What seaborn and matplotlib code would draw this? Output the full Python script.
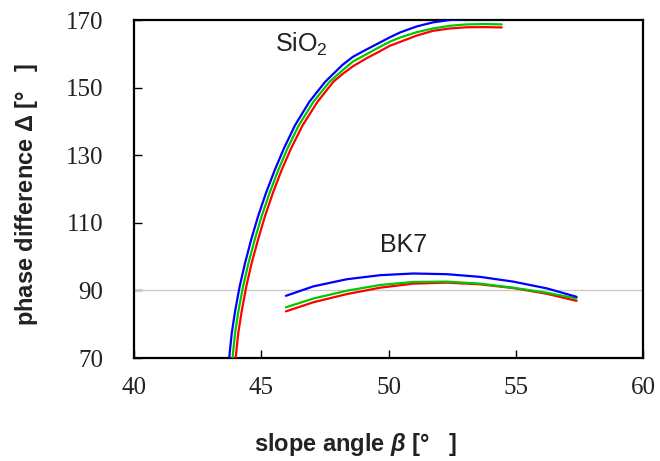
import matplotlib
matplotlib.use("Agg")
import matplotlib.pyplot as plt
import seaborn as sns
import pandas as pd

# SiO2 curves (slope angle beta [deg], phase difference delta [deg])
sio2_blue_x = [43.74, 43.84, 43.98, 44.15, 44.36, 44.60, 44.87, 45.18, 45.53, 45.89, 46.33, 46.89, 47.51,
               48.19, 48.60, 49.14, 49.60, 50.06, 50.45, 51.11, 51.75, 52.42, 53.07, 53.80, 54.45]
sio2_blue_y = [70.0, 77.3, 84.2, 91.1, 98.0, 104.9, 111.8, 118.7, 125.6, 132.0, 138.9, 145.8, 151.7,
               156.7, 159.1, 161.3, 163.1, 164.9, 166.3, 168.1, 169.3, 170.0, 170.25, 170.3, 170.3]
sio2_green_x = [43.87, 43.97, 44.11, 44.285, 44.495, 44.74, 45.01, 45.32, 45.67, 46.03, 46.48, 47.05, 47.68,
                48.19, 48.60, 49.14, 49.60, 50.06, 50.45, 51.11, 51.75, 52.42, 53.07, 53.80, 54.45]
sio2_green_y = [70.0, 77.3, 84.2, 91.1, 98.0, 104.9, 111.8, 118.7, 125.6, 132.0, 138.9, 145.8, 151.7,
                155.1, 157.7, 159.9, 161.8, 163.6, 164.8, 166.4, 167.5, 168.3, 168.7, 168.8, 168.7]
sio2_red_x = [43.995, 44.095, 44.24, 44.41, 44.62, 44.87, 45.14, 45.45, 45.80, 46.17, 46.63, 47.21, 47.83,
              48.19, 48.60, 49.14, 49.60, 50.06, 50.45, 51.11, 51.75, 52.42, 53.07, 53.80, 54.45]
sio2_red_y = [70.0, 77.3, 84.2, 91.1, 98.0, 104.9, 111.8, 118.7, 125.6, 132.0, 138.9, 145.8, 151.7,
              154.0, 156.3, 158.7, 160.5, 162.4, 163.5, 165.4, 166.8, 167.5, 167.85, 167.9, 167.8]

# BK7 curves
bk7_x = [45.97, 47.05, 48.36, 49.67, 50.97, 52.29, 53.60, 54.90, 56.22, 57.39]
bk7_blue_y = [88.4, 91.2, 93.3, 94.5, 95.0, 94.8, 94.0, 92.6, 90.6, 88.1]
bk7_green_y = [85.0, 87.6, 89.9, 91.6, 92.5, 92.6, 92.0, 90.8, 89.3, 87.6]
bk7_red_y = [83.8, 86.5, 88.9, 90.8, 92.0, 92.3, 91.8, 90.7, 89.0, 86.9]

x_ticks = [40, 45, 50, 55, 60]
y_ticks = [70, 90, 110, 130, 150, 170]

sns.set_theme(style="white")
plt.rcParams["mathtext.fontset"] = "custom"
plt.rcParams["mathtext.it"] = "Liberation Sans:bold:italic"
plt.rcParams["mathtext.rm"] = "Liberation Sans:bold"
plt.rcParams["mathtext.bf"] = "Liberation Sans:bold"

fig = plt.figure(figsize=(6.6, 4.61), dpi=100)
ax = fig.add_axes([134 / 660, 1 - 358 / 461, (643 - 134) / 660, (358 - 20) / 461])

ax.axhline(90, color="#c8c8c8", lw=0.9, zorder=1)

lw = 1.6
curves = [
    (sio2_red_x, sio2_red_y, "#ff0000"),
    (sio2_green_x, sio2_green_y, "#00c800"),
    (sio2_blue_x, sio2_blue_y, "#0000ff"),
    (bk7_x, bk7_red_y, "#ff0000"),
    (bk7_x, bk7_green_y, "#00c800"),
    (bk7_x, bk7_blue_y, "#0000ff"),
]
for xs, ys, c in curves:
    df = pd.DataFrame({"x": xs, "y": ys})
    sns.lineplot(data=df, x="x", y="y", color=c, lw=lw, sort=False,
                 estimator=None, ax=ax, zorder=3)

ax.set_xlim(40, 60)
ax.set_ylim(70, 170)
ax.set_xticks(x_ticks)
ax.set_yticks(y_ticks)
ax.set_xticklabels([str(v) for v in x_ticks], family="Liberation Serif", fontsize=18)
ax.set_yticklabels([str(v) for v in y_ticks], family="Liberation Serif", fontsize=18)
ax.tick_params(axis="both", direction="in", length=6, width=1, color="black",
               labelcolor="#222222")
ax.tick_params(axis="x", pad=14)
ax.tick_params(axis="y", pad=22)
ax.tick_params(top=False, right=False, bottom=True, left=True)

for s in ax.spines.values():
    s.set_visible(True)
    s.set_color("black")
    s.set_linewidth(1.6)

ax.set_xlabel("slope angle $\\mathit{β}$ [°   ]", family="Liberation Sans",
              fontweight="bold", fontsize=17, color="#222222")
ax.set_ylabel("phase difference $\\mathit{Δ}$ [°   ]", family="Liberation Sans",
              fontweight="bold", fontsize=17, color="#222222")
ax.xaxis.set_label_coords(0.436, -0.215)
ax.yaxis.set_label_coords(-0.185, 0.485)

ax.text(45.54, 160.5, "SiO$_\\mathregular{2}$", family="Liberation Sans",
        fontsize=18, color="#222222", ha="left", va="baseline")
ax.text(49.67, 101.4, "BK7", family="Liberation Sans", fontsize=18,
        color="#222222", ha="left", va="baseline")

ax.grid(False)
fig.savefig("out.png", dpi=100)
